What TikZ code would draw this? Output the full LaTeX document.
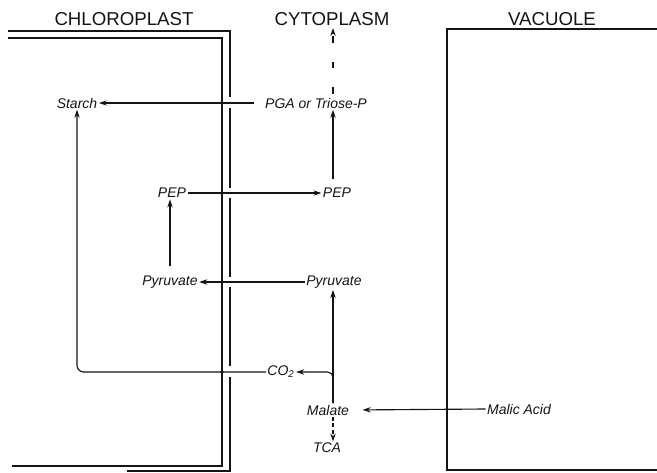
\documentclass[tikz,border=0pt]{standalone}
\usepackage{fontspec}
\setmainfont{Liberation Sans}
\usetikzlibrary{calc,arrows.meta}
\definecolor{inkblack}{RGB}{20,20,20}
\tikzset{
  memline/.style={draw=inkblack,line width=1.1pt},
  flowline/.style={draw=inkblack,line width=0.85pt,-{Stealth[length=6pt,width=4pt]}},
  headfont/.style={font=\fontsize{14}{16}\selectfont,text=inkblack},
  metfont/.style={font=\fontsize{10.5}{12}\selectfont\itshape,text=inkblack,inner sep=1pt},
}
\newcommand{\metab}[3]{\node[metfont] (#1) at (#2) {#3};}
\newcommand{\pore}[1]{\fill[inkblack] (222,#1) circle (1.4pt);}
\begin{document}
\begin{tikzpicture}[x=0.75pt,y=-0.75pt]
        \useasboundingbox (0,0) rectangle (657,472);
        % membranes
        \draw[memline] (8,38) -- (222,38) -- (222,466) -- (12,466);
        \draw[memline] (8,31) -- (230,31) -- (230,97);
        \foreach \a/\b in {108/188,198/277,287/366}{\draw[memline] (230,\a) -- (230,\b);}
        \draw[memline] (230,377) -- (230,471) -- (127,471);
        \draw[memline] (657,29) -- (447,29) -- (447,470) -- (657,470);
        \foreach \y in {103,193,282,372}{\pore{\y}}
        % compartments
        \node[headfont] (chlhead) at (124,19) {CHLOROPLAST};
        \node[headfont] (cythead) at (332,19) {CYTOPLASM};
        \node[headfont] (vachead) at (552,19) {VACUOLE};
        % metabolites
        \metab{starch}{77,103}{Starch}
        \metab{pga}{316,103}{PGA or Triose-P}
        \metab{pepl}{172,193}{PEP}
        \metab{pepc}{337,193}{PEP}
        \metab{pyrl}{170,282}{Pyruvate}
        \metab{pyrc}{334,282}{Pyruvate}
        \metab{cotwo}{281,372}{CO\textsubscript{2}}
        \metab{malate}{328,410}{Malate}
        \metab{malic}{519,409}{Malic Acid}
        \metab{tca}{327,448}{TCA}
        \coordinate (cytaxis) at (333,28);
        % fluxes
        \draw[flowline,shorten <=7pt] (pga.west) -- (starch.east);
        \draw[flowline,dash pattern=on 5pt off 14pt,shorten <=2pt] (pga.north -| cytaxis) -- (cytaxis);
        \draw[flowline,shorten <=6pt] (pepc.north -| cytaxis) -- (pga.south -| cytaxis);
        \draw[flowline] (pepl.east) -- (pepc.west);
        \draw[flowline,shorten <=6pt] (pyrl.north) -- (pyrl.north |- pepl.south);
        \draw[flowline] (pyrc.west) -- (pyrl.east);
        \draw[flowline] (malate.north -| cytaxis) -- (pyrc.south -| cytaxis);
        \draw[flowline,rounded corners=4pt] (malate.north -| cytaxis) |- (cotwo.east);
        \draw[flowline,rounded corners=5pt] (cotwo.west) -| (starch.south);
        \draw[flowline,shorten >=9pt] (malic.west) -- (malate.east);
        \draw[flowline,dash pattern=on 3pt off 2pt] (malate.south -| cytaxis) -- (tca.north -| cytaxis);
      \end{tikzpicture}
\end{document}
